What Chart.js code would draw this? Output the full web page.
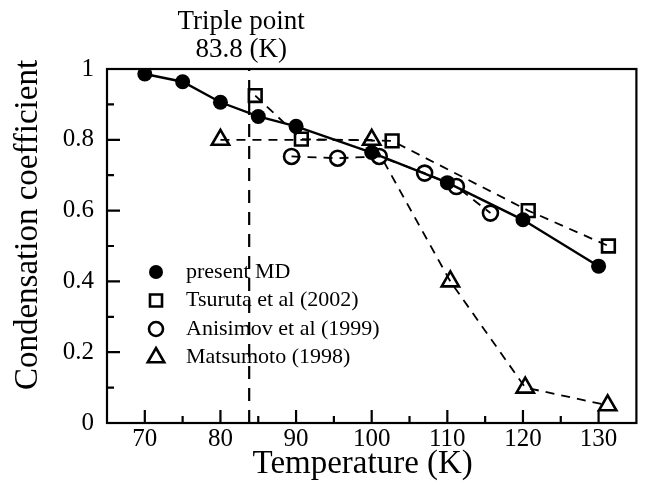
<!DOCTYPE html>
<html>
<head>
<meta charset="utf-8">
<script src="https://cdn.jsdelivr.net/npm/chart.js@4"></script>
<style>
  body { margin: 0; background: #fff; }
</style>
</head>
<body>
<canvas id="myChart" width="649" height="489"></canvas>
<script>
// values
var mdTemp = [70, 75, 80, 85, 90, 100, 110, 120, 130];
var mdCoef = [0.986, 0.964, 0.906, 0.866, 0.838, 0.764, 0.679, 0.574, 0.443];

var tsTemp = [84.6, 90.7, 102.7, 120.7, 131.3];
var tsCoef = [0.925, 0.802, 0.797, 0.600, 0.500];

var anTemp = [89.4, 95.5, 101.0, 107.0, 111.2, 115.7];
var anCoef = [0.753, 0.748, 0.753, 0.706, 0.668, 0.593];

var maTemp = [80, 100, 110.4, 120.3, 131.2];
var maCoef = [0.80, 0.80, 0.40, 0.10, 0.05];

var triplePoint = 83.8;

var xTicks = [70, 80, 90, 100, 110, 120, 130];
var xMinor = [75, 85, 95, 105, 115, 125];
var yTicks = [0, 0.2, 0.4, 0.6, 0.8, 1];
var yMinor = [0.1, 0.3, 0.5, 0.7, 0.9];

var xTitle = 'Temperature (K)';
var yTitle = 'Condensation coefficient';

var serif = "'Liberation Serif', 'Times New Roman', serif";

function points(xs, ys) {
    return xs.map(function (x, i) { return { x: x, y: ys[i] }; });
}

// frame, inward ticks, axis titles, triple point note and the legend inside the plot
var decorPlugin = {
    id: 'decor',
    afterDraw: function (chart) {
        var ctx = chart.ctx;
        var a = chart.chartArea;
        var xs = chart.scales.x;
        var ys = chart.scales.y;
        ctx.save();
        ctx.strokeStyle = '#000';
        ctx.lineWidth = 2.2;
        ctx.strokeRect(a.left, a.top, a.right - a.left, a.bottom - a.top);

        ctx.beginPath();
        xTicks.concat(xMinor).forEach(function (t) {
            var px = xs.getPixelForValue(t);
            var len = xTicks.indexOf(t) >= 0 ? 13 : 7;
            ctx.moveTo(px, a.bottom);
            ctx.lineTo(px, a.bottom - len);
        });
        yTicks.concat(yMinor).forEach(function (t) {
            var py = ys.getPixelForValue(t);
            var len = yTicks.indexOf(t) >= 0 ? 13 : 7;
            ctx.moveTo(a.left, py);
            ctx.lineTo(a.left + len, py);
        });
        ctx.stroke();

        ctx.fillStyle = '#000';
        ctx.textAlign = 'center';
        ctx.textBaseline = 'middle';

        // axis titles
        ctx.font = '33px ' + serif;
        ctx.fillText(xTitle, (a.left + a.right) / 2 - 9, a.bottom + 41);
        ctx.save();
        ctx.translate(a.left - 79, (a.top + a.bottom) / 2 - 21);
        ctx.rotate(-Math.PI / 2);
        ctx.fillText(yTitle, 0, 0);
        ctx.restore();

        ctx.font = '27px ' + serif;
        var tx = xs.getPixelForValue(triplePoint) - 8;
        ctx.fillText('Triple point', tx, a.top - 47);
        ctx.fillText(triplePoint + ' (K)', tx, a.top - 19);

        // legend
        ctx.font = '22px ' + serif;
        ctx.textAlign = 'left';
        chart.data.datasets.slice(0, 4).forEach(function (ds, i) {
            var y = a.top + 203 + i * 28.5;
            ctx.fillStyle = ds.pointBackgroundColor;
            ctx.strokeStyle = '#000';
            ctx.lineWidth = ds.pointBorderWidth;
            Chart.helpers.drawPoint(ctx, {
                pointStyle: ds.pointStyle,
                radius: ds.pointRadius - 0.5,
                borderWidth: ds.pointBorderWidth,
                rotation: 0
            }, a.left + 49, y);
            ctx.fillStyle = '#000';
            ctx.fillText(ds.label, a.left + 79, y);
        });
        ctx.restore();
    }
};

var ctx = document.getElementById('myChart');

var myChart = new Chart(ctx, {
    type: 'scatter',
    data: {
        datasets: [
            {
                label: 'present MD',
                data: points(mdTemp, mdCoef),
                showLine: true,
                borderColor: '#000',
                borderWidth: 2.4,
                pointStyle: 'circle',
                pointRadius: 7.5,
                pointBackgroundColor: '#000',
                pointBorderColor: '#000',
                pointBorderWidth: 0
            },
            {
                label: 'Tsuruta et al (2002)',
                data: points(tsTemp, tsCoef),
                showLine: true,
                borderColor: '#000',
                borderWidth: 1.8,
                borderDash: [9, 7],
                pointStyle: 'rect',
                pointRadius: 9,
                pointBackgroundColor: 'rgba(0,0,0,0)',
                pointBorderColor: '#000',
                pointBorderWidth: 2.6
            },
            {
                label: 'Anisimov et al (1999)',
                data: points(anTemp, anCoef),
                showLine: true,
                borderColor: '#000',
                borderWidth: 1.8,
                borderDash: [9, 7],
                pointStyle: 'circle',
                pointRadius: 7.5,
                pointBackgroundColor: 'rgba(0,0,0,0)',
                pointBorderColor: '#000',
                pointBorderWidth: 2.6
            },
            {
                label: 'Matsumoto (1998)',
                data: points(maTemp, maCoef),
                showLine: true,
                borderColor: '#000',
                borderWidth: 1.8,
                borderDash: [9, 7],
                pointStyle: 'triangle',
                pointRadius: 10,
                pointBackgroundColor: 'rgba(0,0,0,0)',
                pointBorderColor: '#000',
                pointBorderWidth: 2.6
            },
            {
                label: 'triple point',
                data: [{ x: triplePoint, y: 0 }, { x: triplePoint, y: 1 }],
                showLine: true,
                borderColor: '#000',
                borderWidth: 2.2,
                borderDash: [13, 9],
                pointRadius: 0
            }
        ]
    },
    options: {
        responsive: false,
        animation: false,
        layout: { padding: { top: 69, right: 12, left: 0, bottom: 0 } },
        plugins: {
            legend: { display: false },
            tooltip: { enabled: false }
        },
        scales: {
            x: {
                type: 'linear',
                min: 65,
                max: 135,
                afterBuildTicks: function (s) { s.ticks = xTicks.map(function (v) { return { value: v }; }); },
                afterFit: function (s) { s.height = 66; },
                grid: { display: false, drawTicks: false },
                border: { display: false },
                ticks: { color: '#000', font: { family: serif, size: 25 }, padding: 1, maxRotation: 0, autoSkip: false }
            },
            y: {
                type: 'linear',
                min: 0,
                max: 1,
                afterBuildTicks: function (s) { s.ticks = yTicks.map(function (v) { return { value: v }; }); },
                afterFit: function (s) { s.width = 107; },
                grid: { display: false, drawTicks: false },
                border: { display: false },
                ticks: {
                    color: '#000',
                    font: { family: serif, size: 25 },
                    padding: 13,
                    autoSkip: false,
                    callback: function (v) { return String(v); }
                }
            }
        }
    },
    plugins: [decorPlugin]
});
</script>
</body>
</html>
